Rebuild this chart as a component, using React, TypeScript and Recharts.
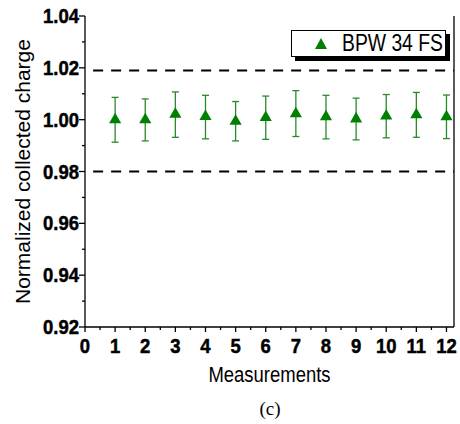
import { ScatterChart, Scatter, XAxis, YAxis, ZAxis, ErrorBar, ReferenceLine, Label } from 'recharts';

const measurements = [1, 2, 3, 4, 5, 6, 7, 8, 9, 10, 11, 12];
const chargeValues = [1.0, 1.0, 1.0021, 1.0012, 0.9994, 1.0008, 1.0023, 1.0011, 1.0003, 1.0014, 1.0019, 1.0011];
const errUp = [0.0086, 0.008, 0.0086, 0.0082, 0.0076, 0.0083, 0.0089, 0.0083, 0.008, 0.0083, 0.0086, 0.0084];
const errDown = [0.0087, 0.0082, 0.0089, 0.0086, 0.0076, 0.0084, 0.0088, 0.0085, 0.0081, 0.0084, 0.0087, 0.0084];

const xTicks = [0, 0.5, 1, 1.5, 2, 2.5, 3, 3.5, 4, 4.5, 5, 5.5, 6, 6.5, 7, 7.5, 8, 8.5, 9, 9.5, 10, 10.5, 11, 11.5, 12];
const yTicks = [0.92, 0.93, 0.94, 0.95, 0.96, 0.97, 0.98, 0.99, 1.0, 1.01, 1.02, 1.03, 1.04];
const limitLines = [1.019, 0.98];

const GREEN = '#008000';
const SANS = "'Liberation Sans', Arial, sans-serif";
// the original figure is squeezed sideways, so horizontal text gets narrowed
const SQUEEZE = 0.84;

const data = measurements.map((m, i) => ({
  x: m,
  y: chargeValues[i],
  err: [errDown[i], errUp[i]],
}));

const isMajorX = (v: number) => Math.abs(v - Math.round(v)) < 1e-6;
const isMajorY = (v: number) => Math.round(v * 100) % 2 === 0;

function NarrowText({ x, y, anchor, size, bold, squeeze = SQUEEZE, children }: any) {
  return (
    <g transform={`translate(${x},${y}) scale(${squeeze},1)`}>
      <text
        x={0}
        y={0}
        textAnchor={anchor}
        fontFamily={SANS}
        fontWeight={bold ? 'bold' : 'normal'}
        fontSize={size}
        fill="#000"
        stroke={bold ? '#000' : 'none'}
        strokeWidth={bold ? 0.5 : 0}
      >
        {children}
      </text>
    </g>
  );
}

function BottomTick(props: any) {
  const { x, y, payload } = props;
  const major = isMajorX(payload.value);
  return (
    <g>
      <line x1={x} x2={x} y1={y} y2={y + (major ? 5 : 3)} stroke="#000" strokeWidth={1.3} />
      {major && (
        <NarrowText x={x} y={y + 26} anchor="middle" size={21} bold squeeze={0.88}>
          {payload.value}
        </NarrowText>
      )}
    </g>
  );
}

function TopTick(props: any) {
  const { x, y, payload } = props;
  const major = isMajorX(payload.value);
  return <line x1={x} x2={x} y1={y} y2={y + (major ? 4 : 3)} stroke="#000" strokeWidth={1.3} />;
}

function LeftTick(props: any) {
  const { x, y, payload } = props;
  const major = isMajorY(payload.value);
  return (
    <g>
      <line x1={x - (major ? 6 : 3)} x2={x} y1={y} y2={y} stroke="#000" strokeWidth={1.3} />
      {major && (
        <NarrowText x={x - 6} y={y + 7} anchor="end" size={21} bold squeeze={0.88}>
          {payload.value.toFixed(2)}
        </NarrowText>
      )}
    </g>
  );
}

function RightTick(props: any) {
  const { x, y, payload } = props;
  const major = isMajorY(payload.value);
  return <line x1={x} x2={x + (major ? 5 : 3)} y1={y} y2={y} stroke="#000" strokeWidth={1.3} />;
}

function XTitle(props: any) {
  const { viewBox } = props;
  return (
    <NarrowText x={viewBox.x + viewBox.width / 2} y={viewBox.y + 55} anchor="middle" size={22}>
      Measurements
    </NarrowText>
  );
}

function LegendBox() {
  return (
    <div
      style={{
        position: 'absolute',
        left: 291,
        top: 30,
        width: 153,
        height: 25,
        border: '1px solid #000',
        background: '#fff',
        boxShadow: '4px 4px 0 #000',
        fontFamily: SANS,
        fontSize: 23,
        lineHeight: '25px',
      }}
    >
      <svg width={14} height={14} style={{ position: 'absolute', left: 22, top: 6 }}>
        <polygon points="7,1 13,12 1,12" fill={GREEN} />
      </svg>
      <span
        style={{
          position: 'absolute',
          left: 50,
          top: 0,
          whiteSpace: 'nowrap',
          transform: `scaleX(${SQUEEZE})`,
          transformOrigin: 'left center',
        }}
      >
        BPW 34 FS
      </span>
    </div>
  );
}

export default function App() {
  return (
    <div style={{ position: 'absolute', left: 0, top: 0, width: 460, height: 424, background: '#fff' }}>
      <ScatterChart width={460} height={424} margin={{ top: 16, right: 0, bottom: 0, left: 0 }}>
        <XAxis
          type="number"
          dataKey="x"
          domain={[0, 12.25]}
          ticks={xTicks}
          interval={0}
          height={97}
          tickSize={0}
          tickMargin={0}
          tickLine={false}
          axisLine={{ stroke: '#000', strokeWidth: 1.3 }}
          tick={<BottomTick />}
        >
          <Label content={<XTitle />} />
        </XAxis>
        <XAxis
          xAxisId="top"
          orientation="top"
          type="number"
          domain={[0, 12.25]}
          ticks={xTicks}
          interval={0}
          height={0}
          tickSize={0}
          tickMargin={0}
          tickLine={false}
          axisLine={{ stroke: '#000', strokeWidth: 1.3 }}
          tick={<TopTick />}
        />
        <YAxis
          type="number"
          dataKey="y"
          domain={[0.92, 1.04]}
          ticks={yTicks}
          interval={0}
          width={85}
          tickSize={0}
          tickMargin={0}
          tickLine={false}
          axisLine={{ stroke: '#000', strokeWidth: 1.3 }}
          tick={<LeftTick />}
          label={{
            value: 'Normalized collected charge',
            angle: -90,
            position: 'center',
            dx: -20,
            fontFamily: SANS,
            fontSize: 21,
            fill: '#000',
          }}
        />
        <YAxis
          yAxisId="right"
          orientation="right"
          type="number"
          domain={[0.92, 1.04]}
          ticks={yTicks}
          interval={0}
          width={6}
          tickSize={0}
          tickMargin={0}
          tickLine={false}
          axisLine={{ stroke: '#000', strokeWidth: 1.3 }}
          tick={<RightTick />}
        />
        <ZAxis range={[55, 55]} />
        {limitLines.map((v) => (
          <ReferenceLine
            key={v}
            segment={[{ x: 0.27, y: v }, { x: 12.25, y: v }]}
            stroke="#000"
            strokeWidth={2}
            strokeDasharray="10 8"
          />
        ))}
        <Scatter data={data} fill={GREEN} shape="triangle" isAnimationActive={false}>
          <ErrorBar dataKey="err" direction="y" width={3.5} stroke="#2a8a2a" strokeWidth={1.3} />
        </Scatter>
      </ScatterChart>
      <LegendBox />
      <div
        style={{
          position: 'absolute',
          left: 0,
          width: 540,
          top: 398,
          textAlign: 'center',
          fontFamily: "'Liberation Serif', 'Times New Roman', serif",
          fontSize: 19,
        }}
      >
        (c)
      </div>
    </div>
  );
}
